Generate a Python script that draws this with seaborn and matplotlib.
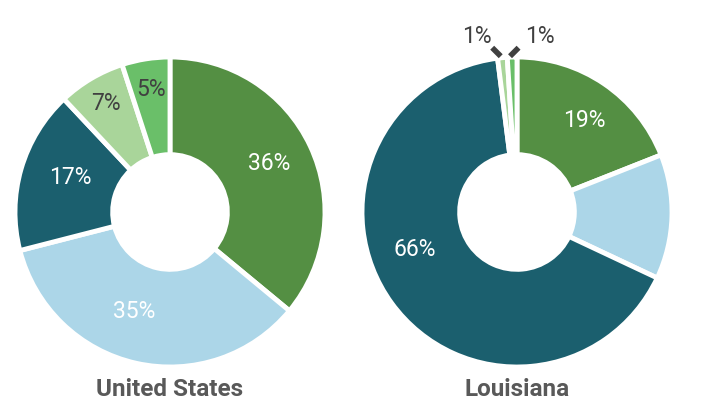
import numpy as np
import matplotlib
matplotlib.use("Agg")
import matplotlib.pyplot as plt
import seaborn as sns

sns.set_theme(style="white")
plt.rcParams['font.family'] = ['Roboto', 'DejaVu Sans']

# данные
categories = ['A', 'B', 'C', 'D', 'E']
us_values = [36, 35, 17, 7, 5]
la_values = [19, 13, 66, 1, 1]
us_labels = ['36%', '35%', '17%', '7%', '5%']
la_labels = ['19%', '', '66%', '', '']
colors = ['#548f43', '#acd6e8', '#1b5f6e', '#a9d59a', '#6abf69']
label_colors = ['white', 'white', 'white', '#404040', '#404040']

# положение подписей (радиус и сдвиг угла) - как в Excel
us_lab_r = [0.71, 0.68, 0.68, 0.81, 0.80]
us_lab_da = [1, -7, -3, 0, 0]
la_lab_r = [0.73, 0.7, 0.70, 0.8, 0.8]
la_lab_da = [-2, 0, -16, 0, 0]

W, H = 711, 412
fig = plt.figure(figsize=(W / 100, H / 100), dpi=100)
R = 155


def donut(cx, cy, values, labels, lab_r, lab_da, title):
    ax = fig.add_axes([(cx - R) / W, (H - cy - R) / H, 2 * R / W, 2 * R / H])
    wedges, _ = ax.pie(values, colors=colors, startangle=90, counterclock=False,
                       radius=1, wedgeprops=dict(width=0.63, edgecolor='white', linewidth=3.5))
    for w, lab, lc, r, da in zip(wedges, labels, label_colors, lab_r, lab_da):
        if not lab:
            continue
        ang = np.deg2rad((w.theta1 + w.theta2) / 2 + da)
        ax.text(r * np.cos(ang), r * np.sin(ang), lab, ha='center', va='center',
                fontsize=16.5, color=lc)
    ax.set_xlim(-1, 1)
    ax.set_ylim(-1, 1)
    ax.set_aspect('equal')
    ax.axis('off')
    fig.text(cx / W, 1 - 390 / H, title, ha='center', va='center', fontsize=17.5,
             fontweight='bold', color='#595959')
    return ax


donut(170, 212, us_values, us_labels, us_lab_r, us_lab_da, 'United States')
ax2 = donut(517, 212, la_values, la_labels, la_lab_r, la_lab_da, 'Louisiana')

# маленькие доли Луизианы - подписи снаружи
ax2.text(-0.26, 1.13, '1%', ha='center', va='center', fontsize=16.5, color='#404040', clip_on=False)
ax2.text(0.15, 1.13, '1%', ha='center', va='center', fontsize=16.5, color='#404040', clip_on=False)
ax2.plot([-0.16, -0.105], [1.06, 1.005], color='#404040', lw=4, clip_on=False, solid_capstyle='butt')
ax2.plot([0.01, -0.045], [1.06, 1.005], color='#404040', lw=4, clip_on=False, solid_capstyle='butt')

fig.savefig('out.png', dpi=100)
